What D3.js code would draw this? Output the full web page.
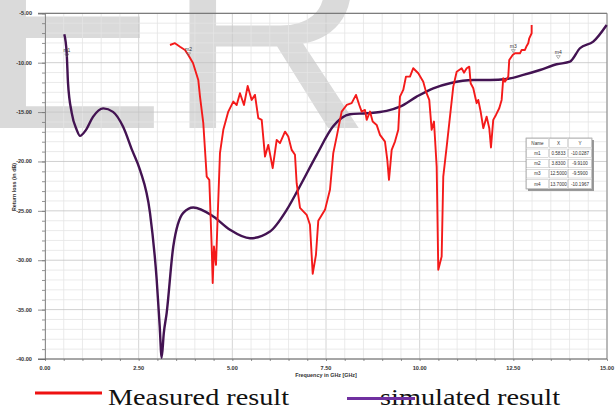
<!DOCTYPE html>
<html>
<head>
<meta charset="utf-8">
<script src="https://cdn.jsdelivr.net/npm/d3@7"></script>
<style>
  body { margin: 0; background: #fff; }
  svg { display: block; }
  .tick-label { font-family: "Liberation Sans", Arial, sans-serif; font-size: 5.6px; font-weight: bold; fill: #333; }
  .axis-title { font-family: "Liberation Sans", Arial, sans-serif; font-size: 5.4px; font-weight: bold; fill: #333; }
  .legend-text { font-family: "Liberation Serif", "Times New Roman", serif; font-size: 24px; fill: #111; }
  .tbl { font-family: "Liberation Sans", Arial, sans-serif; font-size: 4.6px; fill: #333; }
</style>
</head>
<body>
<div id="chart"></div>
<script>
// ---- data ----
const xTicks = [0, 2.5, 5, 7.5, 10, 12.5, 15];
const yTicks = [-40, -35, -30, -25, -20, -15, -10, -5];

// simulated return loss (purple)
const simFreq = [0.515, 0.579, 0.614, 0.713, 0.846, 0.934, 1.094, 1.281, 1.556, 1.815, 2.082, 2.322, 2.535, 2.802, 2.981, 3.06, 3.114, 3.17, 3.248, 3.424, 3.691, 3.958, 4.492, 4.937, 5.471, 6.005, 6.451, 6.752, 7.251, 7.686, 8.140, 8.586, 9.119, 9.474, 9.920, 10.363, 10.809, 11.431, 11.876, 12.322, 12.765, 13.211, 13.656, 14.011, 14.278, 14.633, 14.991];
const simLoss = [-7.12, -9.02, -12.05, -15.08, -16.80, -17.41, -16.80, -15.49, -14.63, -14.98, -16.47, -18.83, -20.85, -25.20, -31.98, -36.6, -39.87, -37.4, -35.32, -28.61, -25.20, -24.66, -25.57, -26.92, -27.78, -27.09, -24.90, -22.87, -19.33, -16.47, -15.22, -15.12, -14.88, -14.45, -13.44, -12.59, -12.08, -11.75, -11.75, -11.65, -11.24, -10.74, -10.16, -9.90, -8.54, -7.87, -6.18];

// measured return loss (red)
const measFreq = [3.336, 3.469, 3.603, 3.736, 3.824, 3.950, 4.091, 4.137, 4.225, 4.316, 4.385, 4.449, 4.476, 4.510, 4.564, 4.609, 4.670, 4.759, 4.892, 5.025, 5.116, 5.204, 5.311, 5.410, 5.516, 5.604, 5.693, 5.784, 5.872, 5.960, 6.077, 6.184, 6.272, 6.406, 6.493, 6.584, 6.672, 6.717, 6.806, 6.984, 7.072, 7.145, 7.232, 7.294, 7.473, 7.606, 7.694, 7.785, 7.918, 8.052, 8.185, 8.300, 8.388, 8.452, 8.540, 8.586, 8.674, 8.746, 8.852, 8.941, 9.074, 9.136, 9.181, 9.253, 9.341, 9.429, 9.474, 9.562, 9.634, 9.741, 9.829, 9.963, 10.096, 10.168, 10.256, 10.320, 10.382, 10.454, 10.497, 10.587, 10.630, 10.721, 10.809, 10.897, 10.988, 11.121, 11.183, 11.255, 11.324, 11.361, 11.431, 11.521, 11.564, 11.628, 11.698, 11.788, 11.858, 11.903, 11.964, 12.036, 12.124, 12.188, 12.231, 12.276, 12.365, 12.391, 12.482, 12.543, 12.677, 12.722, 12.810, 12.856, 12.898, 12.925, 12.989, 12.989];
const measLoss = [-8.21, -8.03, -8.38, -8.71, -9.22, -10.04, -11.75, -13.44, -16.13, -21.53, -21.86, -28.61, -32.31, -28.61, -30.46, -25.57, -19.16, -16.80, -14.95, -13.94, -14.28, -13.09, -14.28, -12.35, -13.77, -13.26, -15.62, -15.79, -19.51, -18.32, -20.68, -17.82, -18.15, -16.98, -17.48, -18.83, -19.33, -22.20, -24.69, -25.40, -26.41, -31.37, -29.45, -26.01, -24.90, -22.87, -19.16, -17.48, -14.95, -14.28, -14.10, -13.26, -14.28, -14.95, -14.78, -15.79, -14.95, -15.96, -16.30, -17.31, -17.99, -19.84, -21.86, -18.83, -17.99, -16.80, -13.44, -12.76, -11.41, -11.41, -10.56, -11.07, -11.92, -12.93, -13.77, -16.80, -15.96, -20.52, -30.97, -29.62, -21.53, -18.49, -15.46, -12.42, -10.91, -10.56, -11.01, -10.56, -10.40, -12.08, -12.59, -14.10, -13.77, -14.95, -16.63, -15.46, -16.63, -18.59, -15.79, -15.29, -14.61, -13.77, -11.58, -11.92, -11.41, -9.72, -9.22, -9.05, -9.05, -8.71, -8.71, -8.31, -8.03, -7.53, -7.02, -6.18];

// marker table
const markerNames = ["m1", "m2", "m3", "m4"];
const markerX = [0.5833, 3.8300, 12.5000, 13.7000];
const markerY = [-10.0287, -9.9100, -9.5900, -10.1967];

const legendLabels = ["Measured result", "simulated result"];

// ---- layout ----
const width = 615, height = 410;
const plot = {left: 45, right: 607, top: 13.3, bottom: 359};

const svg = d3.select("#chart").append("svg")
    .attr("width", width)
    .attr("height", height);

const x = d3.scaleLinear().domain([0, 15]).range([plot.left, plot.right]);
const y = d3.scaleLinear().domain([-40, -5]).range([plot.bottom, plot.top]);

// watermark letters behind everything
svg.append("text")
    .attr("x", -24)
    .attr("y", 128)
    .style("font-family", "'Liberation Sans', Arial, sans-serif")
    .style("font-size", "285px")
    .style("fill", "#dadada")
    .text("ER");

// grid
const grid = svg.append("g");
grid.selectAll(".vgrid")
    .data(d3.range(0, 15.01, 0.5))
  .join("line")
    .attr("x1", d => x(d)).attr("x2", d => x(d))
    .attr("y1", plot.top).attr("y2", plot.bottom)
    .attr("stroke", d => (d % 2.5 === 0) ? "#c9c9c9" : "#e4e4e4")
    .attr("stroke-width", 0.8);
grid.selectAll(".hgrid")
    .data(d3.range(-40, -4.99, 1))
  .join("line")
    .attr("x1", plot.left).attr("x2", plot.right)
    .attr("y1", d => y(d)).attr("y2", d => y(d))
    .attr("stroke", d => (d % 5 === 0) ? "#c4c4c4" : "#e4e4e4")
    .attr("stroke-width", 0.8);

// frame: top and right borders
svg.append("line")
    .attr("x1", 38).attr("x2", plot.right)
    .attr("y1", plot.top).attr("y2", plot.top)
    .attr("stroke", "#666").attr("stroke-width", 1);
svg.append("line")
    .attr("x1", plot.right).attr("x2", plot.right)
    .attr("y1", plot.top).attr("y2", plot.bottom)
    .attr("stroke", "#888").attr("stroke-width", 1);

// y axis: major + minor ticks
const yAxisG = svg.append("g").attr("transform", `translate(${plot.left},0)`);
yAxisG.call(d3.axisLeft(y).tickValues(d3.range(-40, -4.99, 1)).tickSize(3).tickFormat(""));
yAxisG.append("g").call(d3.axisLeft(y).tickValues(yTicks).tickSize(7).tickFormat(""));
yAxisG.selectAll("path, line").attr("stroke", "#777").attr("stroke-width", 0.8);
yAxisG.select(".domain").remove();

svg.selectAll(".ylab")
    .data(yTicks)
  .join("text")
    .attr("class", "tick-label")
    .attr("x", 32)
    .attr("y", d => y(d) + 2)
    .attr("text-anchor", "end")
    .text(d => d.toFixed(2));

// x axis
const xAxisG = svg.append("g").attr("transform", `translate(0,${plot.bottom})`);
xAxisG.call(d3.axisBottom(x).tickValues(d3.range(0, 15.01, 0.5)).tickSize(2).tickFormat(""));
xAxisG.selectAll("path, line").attr("stroke", "#777").attr("stroke-width", 0.8);
xAxisG.select(".domain").remove();
svg.append("line")
    .attr("x1", 38).attr("x2", plot.right)
    .attr("y1", plot.bottom).attr("y2", plot.bottom)
    .attr("stroke", "#666").attr("stroke-width", 1);

svg.selectAll(".xlab")
    .data(xTicks)
  .join("text")
    .attr("class", "tick-label")
    .attr("x", d => x(d))
    .attr("y", plot.bottom + 11)
    .attr("text-anchor", "middle")
    .text(d => d.toFixed(2));

// axis titles
svg.append("text")
    .attr("class", "axis-title")
    .attr("x", 326)
    .attr("y", 377)
    .attr("text-anchor", "middle")
    .text("Frequency in GHz [GHz]");

svg.append("text")
    .attr("class", "axis-title")
    .attr("transform", "translate(16,187) rotate(-90)")
    .attr("text-anchor", "middle")
    .text("Return loss (in dB)");

// curves
const simData = simFreq.map((f, i) => [f, simLoss[i]]);
const measData = measFreq.map((f, i) => [f, measLoss[i]]);

svg.append("path")
    .datum(simData)
    .attr("fill", "none")
    .attr("stroke", "#431352")
    .attr("stroke-width", 2.4)
    .attr("stroke-linejoin", "round")
    .attr("d", d3.line().x(d => x(d[0])).y(d => y(d[1])).curve(d3.curveMonotoneX));

svg.append("path")
    .datum(measData)
    .attr("fill", "none")
    .attr("stroke", "#f41a1a")
    .attr("stroke-width", 1.9)
    .attr("stroke-linejoin", "round")
    .attr("d", d3.line().x(d => x(d[0])).y(d => y(d[1])));

// marker labels
const markers = svg.append("g");
markerNames.forEach((name, i) => {
  const mx = x(markerX[i]), my = y(markerY[i]);
  markers.append("text")
      .attr("class", "tbl")
      .attr("x", mx)
      .attr("y", my - 11)
      .attr("text-anchor", "middle")
      .style("font-size", "5px")
      .text(name);
  markers.append("path")
      .attr("d", `M${mx - 2},${my - 9} L${mx + 2},${my - 9} L${mx},${my - 6} Z`)
      .attr("fill", "none")
      .attr("stroke", "#666")
      .attr("stroke-width", 0.5);
});

// marker table
const tbl = {x: 526, y: 138, colW: [23, 19, 24], rowH: 10.2};
const tblW = d3.sum(tbl.colW), tblH = tbl.rowH * (markerNames.length + 1);
svg.append("rect")
    .attr("x", tbl.x + 2).attr("y", tbl.y + 2)
    .attr("width", tblW).attr("height", tblH)
    .attr("fill", "#9a9a9a");
svg.append("rect")
    .attr("x", tbl.x).attr("y", tbl.y)
    .attr("width", tblW).attr("height", tblH)
    .attr("fill", "#fff").attr("stroke", "#888").attr("stroke-width", 0.6);

const rows = [["Name", "X", "Y"]].concat(markerNames.map((n, i) => [n, markerX[i].toFixed(4), markerY[i].toFixed(4)]));
rows.forEach((row, r) => {
  let cx = tbl.x;
  row.forEach((cell, c) => {
    svg.append("rect")
        .attr("x", cx + 0.8).attr("y", tbl.y + r * tbl.rowH + 0.8)
        .attr("width", tbl.colW[c] - 1.6).attr("height", tbl.rowH - 1.6)
        .attr("fill", "none").attr("stroke", "#aaa").attr("stroke-width", 0.4);
    svg.append("text")
        .attr("class", "tbl")
        .attr("x", cx + tbl.colW[c] / 2)
        .attr("y", tbl.y + r * tbl.rowH + tbl.rowH / 2 + 1.6)
        .attr("text-anchor", "middle")
        .text(cell);
    cx += tbl.colW[c];
  });
});

// legend
const legend = svg.append("g");
legend.append("line")
    .attr("x1", 35).attr("x2", 102).attr("y1", 393).attr("y2", 393)
    .attr("stroke", "#ee1111").attr("stroke-width", 3);
legend.append("text")
    .attr("class", "legend-text")
    .attr("x", 108).attr("y", 405)
    .attr("textLength", 181).attr("lengthAdjust", "spacingAndGlyphs")
    .text(legendLabels[0]);
legend.append("text")
    .attr("class", "legend-text")
    .attr("x", 380).attr("y", 405)
    .attr("textLength", 180).attr("lengthAdjust", "spacingAndGlyphs")
    .text(legendLabels[1]);
legend.append("line")
    .attr("x1", 347).attr("x2", 415).attr("y1", 398.5).attr("y2", 398.5)
    .attr("stroke", "#7030a0").attr("stroke-width", 3);
</script>
</body>
</html>
